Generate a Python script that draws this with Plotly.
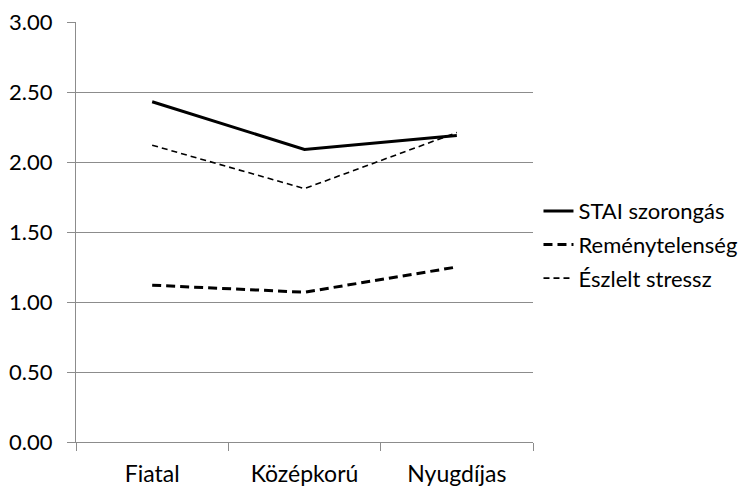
import plotly.graph_objects as go

categories = ["Fiatal", "Középkorú", "Nyugdíjas"]
stai = [2.43, 2.09, 2.19]
remeny = [1.12, 1.07, 1.25]
eszlelt = [2.12, 1.81, 2.21]
y_ticks = [0, 0.5, 1, 1.5, 2, 2.5, 3]
y_labels = ["0.00", "0.50", "1.00", "1.50", "2.00", "2.50", "3.00"]

fig = go.Figure()
fig.add_trace(go.Scatter(x=categories, y=stai, mode="lines", name="STAI szorongás",
                         legendgroup="a", line=dict(color="black", width=3)))
fig.add_trace(go.Scatter(x=categories, y=remeny, mode="lines", name="Reménytelenség",
                         legendgroup="b", line=dict(color="black", width=3, dash="9px,5px")))
fig.add_trace(go.Scatter(x=categories, y=eszlelt, mode="lines", name="Észlelt stressz",
                         legendgroup="c", line=dict(color="black", width=1.6, dash="6px,4px")))

font = dict(family="Lato, 'Open Sans', sans-serif", size=23, color="black")
fig.update_layout(
    width=748, height=488,
    margin=dict(l=68, r=223, t=14, b=54, autoexpand=False),
    paper_bgcolor="white", plot_bgcolor="white",
    font=font,
    showlegend=True,
    legend=dict(x=1.012, y=0.47, xanchor="left", yanchor="middle",
                font=dict(size=22), tracegroupgap=2, itemwidth=30,
                bgcolor="rgba(0,0,0,0)"),
    xaxis=dict(type="category", tickson="boundaries", ticks="outside", ticklen=8,
               tickcolor="#8c8c8c", showline=True, linecolor="#8c8c8c", linewidth=1,
               showgrid=False, range=[-0.5, 2.5], tickfont=dict(size=23),
               ticklabelstandoff=11, automargin=False, ticklabeloverflow="allow"),
    yaxis=dict(range=[0, 3], tickvals=y_ticks, ticktext=y_labels, ticks="outside",
               ticklen=8, tickcolor="#8c8c8c", showline=True, linecolor="#8c8c8c",
               linewidth=1, showgrid=True, gridcolor="#8c8c8c", gridwidth=1,
               zeroline=False, tickfont=dict(size=22), ticklabelstandoff=10,
               automargin=False, ticklabeloverflow="allow"),
)
fig.write_html("out.html")
